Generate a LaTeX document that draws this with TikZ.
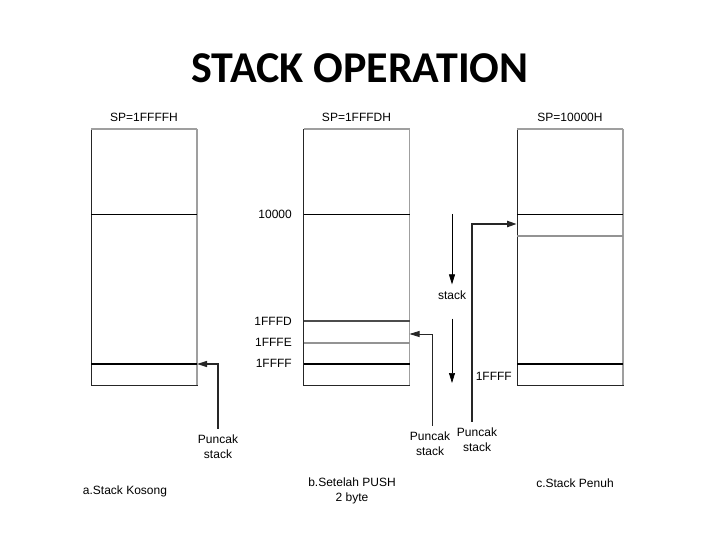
\documentclass[tikz,border=0pt]{standalone}
\usepackage{fontspec}
\setmainfont{Liberation Sans}
\newfontfamily\titlefont{Carlito}
\usetikzlibrary{arrows.meta, positioning, calc}

\begin{document}
\begin{tikzpicture}[
    x=1pt, y=-1pt,
    memblock/.style={rectangle, draw=black!85, line width=0.7pt, minimum width=106pt, minimum height=256pt, inner sep=0pt, outer sep=0pt},
    memtext/.style={font=\fontsize{12}{15}\selectfont, inner sep=1pt, align=center},
    rim/.style={draw=gray!75, line width=2pt},
    slot/.style={draw=black, line width=0.6pt},
    slotgray/.style={draw=gray!85, line width=1.3pt},
    slotdark/.style={draw=black!70, line width=2pt},
    slotthick/.style={draw=black, line width=2.2pt},
    ptr/.style={-{Triangle[length=10pt, width=6pt]}, line width=1.4pt, black!85},
    flow/.style={-{Triangle[length=10pt, width=6pt]}, line width=0.7pt}
]
    \useasboundingbox (0,0) rectangle (720,540);

    \node [font=\titlefont\bfseries\fontsize{44}{48}\selectfont] (title) at (360,68) {STACK OPERATION};

    % memory blocks
    \node [memblock] (boxa) at (144,257) {};
    \node [memblock] (boxb) at (356.5,257) {};
    \node [memblock] (boxc) at (570,257) {};

    \foreach \b in {boxa, boxb, boxc} {
        \draw [rim] (\b.north west) -- (\b.north east);
        \draw [rim, line width=1.2pt] (\b.north east) -- (\b.south east);
    }

    \node [memtext, above=6pt of boxa.north] (spa) {SP=1FFFFH};
    \node [memtext, above=6pt of boxb.north] (spb) {SP=1FFFDH};
    \node [memtext, above=6pt of boxc.north] (spc) {SP=10000H};

    % slots
    \draw [slot] (boxa.west |- 0,214) -- (boxa.east |- 0,214);
    \draw [slotthick] (boxa.west |- 0,364) -- (boxa.east |- 0,364);

    \draw [slot] (boxb.west |- 0,214) -- (boxb.east |- 0,214);
    \draw [slotdark] (boxb.west |- 0,321) -- (boxb.east |- 0,321);
    \draw [slotgray] (boxb.west |- 0,343) -- (boxb.east |- 0,343);
    \draw [slotthick] (boxb.west |- 0,364) -- (boxb.east |- 0,364);

    \draw [slot] (boxc.west |- 0,214) -- (boxc.east |- 0,214);
    \draw [slotgray] (boxc.west |- 0,236) -- (boxc.east |- 0,236);
    \draw [slotthick] (boxc.west |- 0,364) -- (boxc.east |- 0,364);

    \node [memtext, anchor=east] (b10000) at (293,214) {10000};
    \node [memtext, anchor=east] (b1fffd) at (293,321) {1FFFD};
    \node [memtext, anchor=east] (b1fffe) at (293,342) {1FFFE};
    \node [memtext, anchor=east] (b1ffff) at (293,363) {1FFFF};
    \node [memtext, anchor=east] (c1ffff) at (513,376) {1FFFF};

    % top of stack
    \node [memtext] (puncaka) at (218,447) {Puncak\\stack};
    \node [memtext] (puncakb) at (430,444) {Puncak\\stack};
    \node [memtext] (puncakc) at (477,440) {Puncak\\stack};

    \draw [ptr, shorten <=5pt] (puncaka.north) |- (boxa.east |- 0,364);
    \draw [ptr, line width=0.8pt, shorten <=5pt] ([xshift=2pt]puncakb.north) |- (boxb.east |- 0,334);
    \draw [ptr, line width=2.2pt, shorten <=5pt] ([xshift=-5pt]puncakc.north) |- (boxc.west |- 0,224);

    % growth direction
    \coordinate (flowtop) at (452,214);
    \coordinate (flowbot) at (452,383);
    \node [memtext] (stacklbl) at (452,295) {stack};
    \draw [flow, shorten >=5pt] (flowtop) -- (stacklbl.north);
    \draw [flow, shorten <=18pt] (stacklbl.south) -- (flowbot);

    % captions
    \node [memtext] (capa) at (125,491) {a.Stack Kosong};
    \node [memtext] (capb) at (352,491) {b.Setelah PUSH\\2 byte};
    \node [memtext] (capc) at (575,483) {c.Stack Penuh};

\end{tikzpicture}
\end{document}
